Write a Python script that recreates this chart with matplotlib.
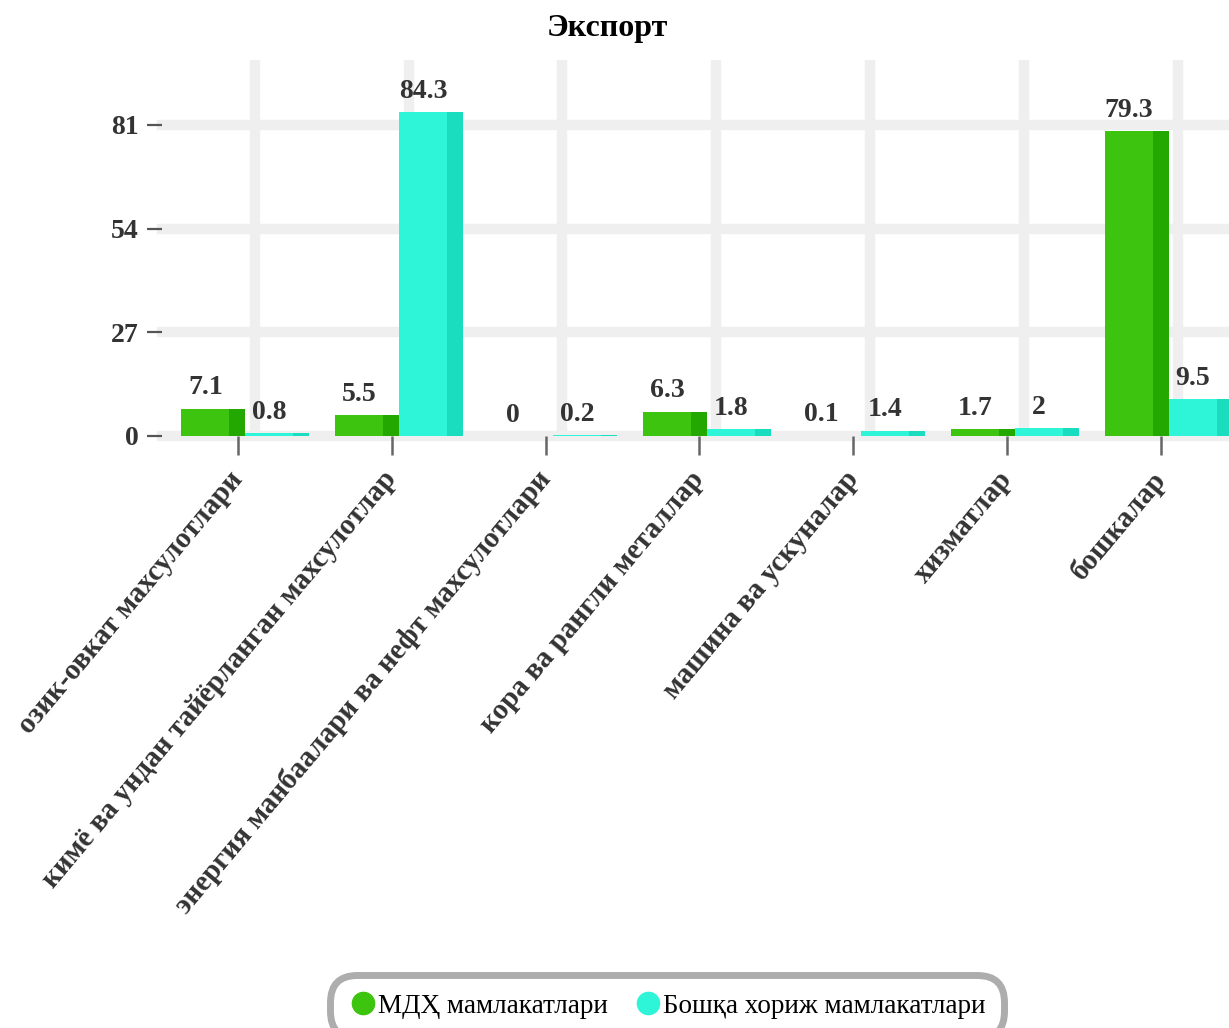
import numpy as np
import matplotlib.pyplot as plt
from matplotlib.lines import Line2D

# chart data
categories = ['озик-овкат махсулотлари',
              'кимё ва ундан тайёрланган махсулотлар',
              'энергия манбаалари ва нефт махсулотлари',
              'кора ва рангли металлар',
              'машина ва ускуналар',
              'хизматлар',
              'бошкалар']
mdh = [7.1, 5.5, 0, 6.3, 0.1, 1.7, 79.3]
other = [0.8, 84.3, 0.2, 1.8, 1.4, 2, 9.5]
series_names = ['МДҲ мамлакатлари', 'Бошқа хориж мамлакатлари']
yticks = [0, 27, 54, 81]

face_colors = ['#3cc40e', '#2ff5d8']
side_colors = ['#22a800', '#1adcbe']

plt.rcParams['font.family'] = ['Liberation Serif', 'DejaVu Serif']

fig = plt.figure(figsize=(12.29, 10.28), dpi=100)
ax = fig.add_axes([0.132, 0.5759, 0.868, 0.3658])

x = np.arange(len(categories))
w = 0.415      # bar width
side = 0.105   # darker right strip (3d look)
shift = 0.05   # groups sit a bit right of the ticks

for i, vals in enumerate([mdh, other]):
    pos = x + shift + (i - 0.5) * w
    ax.bar(pos, vals, width=w, color=face_colors[i], zorder=3)
    ax.bar(pos + w / 2 - side / 2, vals, width=side, color=side_colors[i], zorder=3)
    for px, v in zip(pos - side / 2, vals):
        ax.annotate(f'{v:g}', (px, v), xytext=(0, 6), textcoords='offset points',
                    ha='center', va='bottom', fontsize=20, fontweight='bold',
                    color='#333333', zorder=4)

# grid: thick light lines, vertical ones offset from the ticks
for yv in yticks:
    ax.axhline(yv, color='#efefef', lw=7.5, zorder=1, clip_on=False)
for xv in x + 0.11:
    ax.axvline(xv, color='#efefef', lw=7.5, zorder=1)

ax.set_xlim(-0.49, 6.44)
ax.set_ylim(0, 97.9)
ax.set_yticks(yticks)
ax.set_yticklabels([str(t) for t in yticks], fontsize=20, fontweight='bold', color='#333333')
ax.set_xticks(x)
ax.set_xticklabels(categories, rotation=50, ha='right', va='center', rotation_mode='anchor',
                   fontsize=21, fontweight='bold', color='#333333')
ax.tick_params(axis='y', length=11, width=1.6, color='#555555', pad=6)
ax.tick_params(axis='x', length=14, width=1.8, color='#666666', pad=14)
for s in ax.spines.values():
    s.set_visible(False)

fig.text(0.494, 0.972, 'Экспорт', ha='center', va='center', fontsize=23, fontweight='bold')

handles = [Line2D([], [], marker='o', ls='none', markersize=16, color=c) for c in face_colors]
leg = fig.legend(handles, series_names, loc='center', bbox_to_anchor=(0.543, 0.021),
                 ncol=2, fontsize=19.5, frameon=True, handletextpad=0.05, columnspacing=1.0,
                 borderpad=0.4, handlelength=1.0)
frame = leg.get_frame()
frame.set_edgecolor('#999999')
frame.set_linewidth(5)
frame.set_boxstyle('round', pad=0.3, rounding_size=1.0)

fig.savefig('out.png', dpi=100)
